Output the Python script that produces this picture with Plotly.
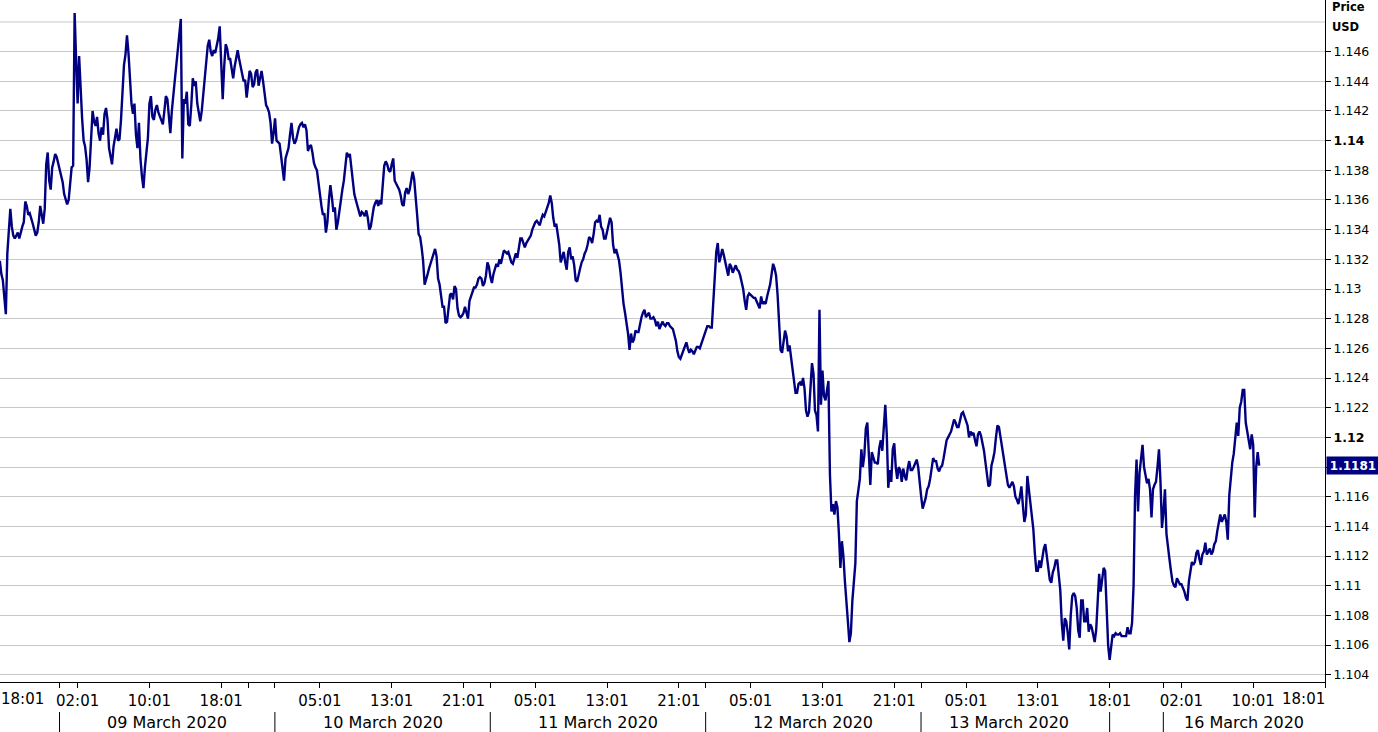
import pandas as pd
import plotly.graph_objects as go

# EUR/USD price samples (every 10 minutes), one list per trading session
eurusd_0308 = [1.1319, 1.1310, 1.1306, 1.1295, 1.1283, 1.1324, 1.1342, 1.1354, 1.1342, 1.1336,
               1.1334, 1.1336, 1.1338, 1.1334, 1.1339, 1.1342, 1.1345, 1.1359, 1.1356, 1.1350,
               1.1351, 1.1348, 1.1344, 1.1340, 1.1336, 1.1338, 1.1345, 1.1356, 1.1348, 1.1344,
               1.1354, 1.1384, 1.1392, 1.1373, 1.1367, 1.1382, 1.1386, 1.1391, 1.1389, 1.1385]
eurusd_0309 = [1.1382, 1.1378, 1.1372, 1.1364, 1.1361, 1.1357, 1.1360, 1.1369, 1.1382, 1.1383,
               1.1486, 1.1454, 1.1425, 1.1457, 1.1430, 1.1415, 1.1400, 1.1396, 1.1387, 1.1372,
               1.1382, 1.1398, 1.1420, 1.1413, 1.1410, 1.1416, 1.1405, 1.1400, 1.1409, 1.1404,
               1.1418, 1.1422, 1.1414, 1.1395, 1.1388, 1.1384, 1.1396, 1.1404, 1.1408, 1.1400,
               1.1401, 1.1414, 1.1435, 1.1451, 1.1458, 1.1471, 1.1459, 1.1440, 1.1425, 1.1418,
               1.1425, 1.1404, 1.1395, 1.1412, 1.1388, 1.1376, 1.1368, 1.1382, 1.1395, 1.1402,
               1.1425, 1.1430, 1.1416, 1.1414, 1.1421, 1.1424, 1.1419, 1.1416, 1.1413, 1.1411,
               1.1420, 1.1430, 1.1428, 1.1416, 1.1405, 1.1420, 1.1433, 1.1441, 1.1451, 1.1462,
               1.1472, 1.1482, 1.1388, 1.1428, 1.1425, 1.1433, 1.1411, 1.1410, 1.1424, 1.1442,
               1.1437, 1.1440, 1.1425, 1.1418, 1.1413, 1.1420, 1.1432, 1.1440, 1.1455, 1.1464,
               1.1468, 1.1460, 1.1457, 1.1461, 1.1459, 1.1464, 1.1469, 1.1477, 1.1450, 1.1428,
               1.1450, 1.1465, 1.1462, 1.1455, 1.1455, 1.1449, 1.1442, 1.1450, 1.1457, 1.1461,
               1.1455, 1.1449, 1.1444, 1.1440, 1.1441, 1.1429, 1.1438, 1.1447, 1.1445, 1.1436,
               1.1438, 1.1446, 1.1448, 1.1437, 1.1442, 1.1447, 1.1440, 1.1430, 1.1424, 1.1422,
               1.1419, 1.1412, 1.1398, 1.1405]
eurusd_0310 = [1.1415, 1.1400, 1.1399, 1.1398, 1.1390, 1.1379, 1.1373, 1.1388, 1.1392, 1.1395,
               1.1404, 1.1412, 1.1402, 1.1398, 1.1400, 1.1405, 1.1409, 1.1411, 1.1412, 1.1409,
               1.1411, 1.1407, 1.1393, 1.1396, 1.1397, 1.1392, 1.1385, 1.1382, 1.1380, 1.1372,
               1.1362, 1.1356, 1.1350, 1.1351, 1.1338, 1.1345, 1.1360, 1.1370, 1.1362, 1.1352,
               1.1355, 1.1340, 1.1345, 1.1353, 1.1362, 1.1367, 1.1373, 1.1385, 1.1392, 1.1389,
               1.1391, 1.1382, 1.1371, 1.1364, 1.1360, 1.1356, 1.1352, 1.1349, 1.1352, 1.1351,
               1.1349, 1.1353, 1.1348, 1.1340, 1.1342, 1.1350, 1.1355, 1.1358, 1.1360, 1.1356,
               1.1360, 1.1357, 1.1374, 1.1383, 1.1386, 1.1384, 1.1380, 1.1379, 1.1384, 1.1388,
               1.1373, 1.1371, 1.1369, 1.1367, 1.1363, 1.1357, 1.1356, 1.1365, 1.1368, 1.1364,
               1.1367, 1.1372, 1.1379, 1.1374, 1.1364, 1.1350, 1.1337, 1.1335, 1.1328, 1.1319,
               1.1303, 1.1306, 1.1310, 1.1314, 1.1317, 1.1320, 1.1324, 1.1327, 1.1322, 1.1307,
               1.1303, 1.1293, 1.1288, 1.1288, 1.1277, 1.1278, 1.1290, 1.1296, 1.1297, 1.1293,
               1.1302, 1.1300, 1.1287, 1.1282, 1.1281, 1.1282, 1.1284, 1.1288, 1.1284, 1.1280,
               1.1292, 1.1295, 1.1298, 1.1301, 1.1301, 1.1303, 1.1307, 1.1308, 1.1307, 1.1302,
               1.1304, 1.1309, 1.1318, 1.1315]
eurusd_0311 = [1.1308, 1.1304, 1.1310, 1.1313, 1.1317, 1.1315, 1.1320, 1.1317, 1.1322, 1.1326,
               1.1325, 1.1324, 1.1325, 1.1321, 1.1318, 1.1317, 1.1321, 1.1324, 1.1321, 1.1328,
               1.1334, 1.1334, 1.1331, 1.1328, 1.1331, 1.1333, 1.1334, 1.1336, 1.1340, 1.1343,
               1.1345, 1.1346, 1.1344, 1.1343, 1.1347, 1.1350, 1.1349, 1.1352, 1.1355, 1.1358,
               1.1363, 1.1358, 1.1348, 1.1342, 1.1344, 1.1337, 1.1330, 1.1318, 1.1322, 1.1325,
               1.1318, 1.1313, 1.1325, 1.1328, 1.1320, 1.1322, 1.1316, 1.1306, 1.1305, 1.1311,
               1.1314, 1.1318, 1.1320, 1.1324, 1.1326, 1.1330, 1.1335, 1.1334, 1.1331, 1.1337,
               1.1345, 1.1346, 1.1345, 1.1350, 1.1342, 1.1340, 1.1334, 1.1334, 1.1339, 1.1344,
               1.1348, 1.1345, 1.1330, 1.1324, 1.1327, 1.1323, 1.1319, 1.1311, 1.1300, 1.1290,
               1.1284, 1.1278, 1.1270, 1.1259, 1.1270, 1.1264, 1.1266, 1.1272, 1.1271, 1.1271,
               1.1277, 1.1281, 1.1284, 1.1286, 1.1281, 1.1283, 1.1284, 1.1280, 1.1280, 1.1281,
               1.1279, 1.1275, 1.1278, 1.1273, 1.1275, 1.1278, 1.1276, 1.1275, 1.1277, 1.1277,
               1.1275, 1.1274, 1.1273, 1.1269, 1.1265, 1.1258, 1.1254, 1.1253, 1.1256, 1.1259,
               1.1262, 1.1264, 1.1260, 1.1257, 1.1259, 1.1258, 1.1256, 1.1258, 1.1261, 1.1261,
               1.1260, 1.1263, 1.1266, 1.1269]
eurusd_0312 = [1.1272, 1.1275, 1.1275, 1.1274, 1.1274, 1.1290, 1.1306, 1.1325, 1.1331, 1.1318,
               1.1322, 1.1327, 1.1323, 1.1319, 1.1314, 1.1309, 1.1317, 1.1315, 1.1311, 1.1314,
               1.1316, 1.1313, 1.1312, 1.1309, 1.1304, 1.1300, 1.1292, 1.1286, 1.1295, 1.1297,
               1.1296, 1.1295, 1.1294, 1.1294, 1.1292, 1.1290, 1.1287, 1.1295, 1.1290, 1.1291,
               1.1290, 1.1295, 1.1299, 1.1303, 1.1310, 1.1317, 1.1314, 1.1309, 1.1296, 1.1275,
               1.1259, 1.1257, 1.1263, 1.1272, 1.1268, 1.1258, 1.1262, 1.1253, 1.1245, 1.1237,
               1.1230, 1.1230, 1.1236, 1.1237, 1.1235, 1.1240, 1.1233, 1.1218, 1.1214, 1.1217,
               1.1238, 1.1250, 1.1243, 1.1218, 1.1215, 1.1204, 1.1286, 1.1222, 1.1245, 1.1228,
               1.1225, 1.1233, 1.1238, 1.1175, 1.1150, 1.1155, 1.1148, 1.1157, 1.1153, 1.1135,
               1.1112, 1.1130, 1.1120, 1.1103, 1.1092, 1.1076, 1.1062, 1.1068, 1.1090, 1.1104,
               1.1115, 1.1157, 1.1165, 1.1172, 1.1192, 1.1180, 1.1188, 1.1206, 1.1210, 1.1185,
               1.1168, 1.1190, 1.1186, 1.1183, 1.1183, 1.1182, 1.1193, 1.1198, 1.1191, 1.1205,
               1.1222, 1.1202, 1.1166, 1.1178, 1.1170, 1.1192, 1.1196, 1.1180, 1.1172, 1.1180,
               1.1178, 1.1170, 1.1179, 1.1174, 1.1171, 1.1179, 1.1184, 1.1178, 1.1178, 1.1180,
               1.1183, 1.1185, 1.1180, 1.1167]
eurusd_0313 = [1.1160, 1.1152, 1.1155, 1.1159, 1.1165, 1.1167, 1.1172, 1.1180, 1.1186, 1.1184,
               1.1184, 1.1179, 1.1177, 1.1180, 1.1181, 1.1186, 1.1193, 1.1198, 1.1200, 1.1202,
               1.1204, 1.1208, 1.1212, 1.1210, 1.1207, 1.1207, 1.1211, 1.1216, 1.1217, 1.1214,
               1.1212, 1.1208, 1.1200, 1.1204, 1.1202, 1.1203, 1.1198, 1.1194, 1.1202, 1.1204,
               1.1201, 1.1197, 1.1191, 1.1183, 1.1176, 1.1167, 1.1168, 1.1181, 1.1185, 1.1190,
               1.1200, 1.1208, 1.1207, 1.1200, 1.1193, 1.1187, 1.1181, 1.1175, 1.1168, 1.1166,
               1.1168, 1.1170, 1.1167, 1.1160, 1.1158, 1.1155, 1.1160, 1.1167, 1.1154, 1.1143,
               1.1148, 1.1174, 1.1165, 1.1155, 1.1146, 1.1138, 1.1122, 1.1110, 1.1110, 1.1117,
               1.1112, 1.1120, 1.1125, 1.1128, 1.1120, 1.1110, 1.1104, 1.1102, 1.1109, 1.1112,
               1.1117, 1.1117, 1.1108, 1.1097, 1.1075, 1.1063, 1.1078, 1.1076, 1.1068, 1.1057,
               1.1080, 1.1093, 1.1095, 1.1093, 1.1085, 1.1070, 1.1065, 1.1090, 1.1090, 1.1076,
               1.1076, 1.1085, 1.1069, 1.1074, 1.1072, 1.1068, 1.1062, 1.1070, 1.1095, 1.1108,
               1.1096, 1.1106, 1.1112, 1.1110, 1.1078, 1.1060]
eurusd_0315 = [1.1050, 1.1060, 1.1067, 1.1066, 1.1068, 1.1067, 1.1067, 1.1068, 1.1066, 1.1066,
               1.1066, 1.1066, 1.1072, 1.1068, 1.1068, 1.1075, 1.1100, 1.1161, 1.1185, 1.1150,
               1.1176, 1.1186, 1.1195, 1.1180, 1.1173, 1.1169, 1.1172, 1.1165, 1.1146, 1.1165,
               1.1168, 1.1170, 1.1180, 1.1192, 1.1170, 1.1139]
eurusd_0316 = [1.1150, 1.1165, 1.1135, 1.1128, 1.1118, 1.1110, 1.1103, 1.1100, 1.1099, 1.1105,
               1.1103, 1.1101, 1.1101, 1.1099, 1.1096, 1.1092, 1.1090, 1.1103, 1.1111, 1.1116,
               1.1114, 1.1116, 1.1122, 1.1124, 1.1118, 1.1114, 1.1121, 1.1123, 1.1129, 1.1121,
               1.1123, 1.1125, 1.1121, 1.1123, 1.1128, 1.1130, 1.1137, 1.1143, 1.1148, 1.1143,
               1.1145, 1.1148, 1.1143, 1.1131, 1.1161, 1.1175, 1.1183, 1.1189, 1.1200, 1.1210,
               1.1201, 1.1220, 1.1224, 1.1232, 1.1232, 1.1210, 1.1204, 1.1196, 1.1192, 1.1202,
               1.1195, 1.1146, 1.1180, 1.1190, 1.1181]

session_starts = ["2020-03-08 17:21", "2020-03-09 00:01", "2020-03-10 00:01", "2020-03-11 00:01",
                  "2020-03-12 00:01", "2020-03-13 00:01", "2020-03-15 18:01", "2020-03-16 00:01"]
sessions = [eurusd_0308, eurusd_0309, eurusd_0310, eurusd_0311,
            eurusd_0312, eurusd_0313, eurusd_0315, eurusd_0316]
sample_step = "10min"

weekend_gap = ["2020-03-13 21:01", "2020-03-15 18:01"]

tick_times = ["2020-03-09 00:00", "2020-03-09 02:01", "2020-03-09 10:01", "2020-03-09 18:01",
              "2020-03-09 21:01", "2020-03-10 00:00", "2020-03-10 05:01", "2020-03-10 13:01",
              "2020-03-10 21:01", "2020-03-11 00:00", "2020-03-11 05:01", "2020-03-11 13:01",
              "2020-03-11 21:01", "2020-03-12 00:00", "2020-03-12 05:01", "2020-03-12 13:01",
              "2020-03-12 21:01", "2020-03-13 00:00", "2020-03-13 05:01", "2020-03-13 13:01",
              "2020-03-15 18:01", "2020-03-16 00:00", "2020-03-16 02:01", "2020-03-16 10:01",
              "2020-03-16 18:01"]
tick_labels = ["", "02:01", "10:01", "18:01",
               "", "", "05:01", "13:01",
               "21:01", "", "05:01", "13:01",
               "21:01", "", "05:01", "13:01",
               "21:01", "", "05:01", "13:01",
               "18:01", "", "02:01", "10:01",
               ""]
edge_labels = ["18:01", "18:01"]

day_bounds = ["2020-03-09 00:00", "2020-03-10 00:00", "2020-03-11 00:00", "2020-03-12 00:00",
              "2020-03-13 00:00", "2020-03-15 18:01", "2020-03-16 00:00"]
day_names = ["09 March 2020", "10 March 2020", "11 March 2020", "12 March 2020",
             "13 March 2020", "16 March 2020"]
day_centres = ["2020-03-09 12:00", "2020-03-10 12:00", "2020-03-11 12:00", "2020-03-12 12:00",
               "2020-03-13 09:49", "2020-03-16 09:00"]

price_ticks = [1.104, 1.106, 1.108, 1.110, 1.112, 1.114, 1.116, 1.118, 1.120, 1.122, 1.124,
               1.126, 1.128, 1.130, 1.132, 1.134, 1.136, 1.138, 1.140, 1.142, 1.144, 1.146]
price_tick_text = ["1.104", "1.106", "1.108", "1.11", "1.112", "1.114", "1.116", "",
                   "<b>1.12</b>", "1.122", "1.124", "1.126", "1.128", "1.13", "1.132", "1.134",
                   "1.136", "1.138", "<b>1.14</b>", "1.142", "1.144", "1.146"]
top_gridline = 1.148
y_range = [1.10351, 1.14948]
x_range = ["2020-03-08 17:22", "2020-03-16 18:01"]

NAVY = "#000080"
FONT = "DejaVu Sans"

times, prices = [], []
for start, seg in zip(session_starts, sessions):
    times += list(pd.date_range(start, periods=len(seg), freq=sample_step))
    prices += seg
last_price = prices[-1]

fig = go.Figure()
fig.add_trace(go.Scatter(x=times, y=prices, mode="lines",
                         line=dict(color=NAVY, width=2.4), showlegend=False))

fig.update_layout(
    width=1378, height=732,
    margin=dict(l=0, r=53, t=0, b=50),
    paper_bgcolor="white", plot_bgcolor="white",
    font=dict(family=FONT, color="black"),
    xaxis=dict(
        type="date", range=x_range,
        rangebreaks=[dict(bounds=weekend_gap)],
        tickmode="array", tickvals=tick_times, ticktext=tick_labels,
        ticks="outside", ticklen=5, tickcolor="black", tickwidth=1,
        tickfont=dict(family=FONT, size=15, color="black"),
        showgrid=False, zeroline=False,
        showline=True, linecolor="black", linewidth=1,
    ),
    yaxis=dict(
        side="right", range=y_range,
        tickmode="array", tickvals=price_ticks, ticktext=price_tick_text,
        ticks="outside", ticklen=5, tickcolor="black", tickwidth=1,
        tickfont=dict(family=FONT, size=12.5, color="black"),
        showgrid=True, gridcolor="#c8c8c8", gridwidth=1,
        zeroline=False, showline=True, linecolor="black", linewidth=1,
    ),
)

shapes = [dict(type="line", xref="paper", yref="y", x0=0, x1=1,
               y0=top_gridline, y1=top_gridline, line=dict(color="#c8c8c8", width=1),
               layer="below")]
for b in day_bounds:
    shapes.append(dict(type="line", xref="x", yref="paper", x0=b, x1=b,
                       y0=-0.044, y1=-0.075, line=dict(color="black", width=1)))
fig.update_layout(shapes=shapes)

annotations = []
for name, mid in zip(day_names, day_centres):
    annotations.append(dict(text=name, x=mid, xref="x", y=-0.0587, yref="paper",
                            xanchor="center", yanchor="middle", showarrow=False,
                            font=dict(family=FONT, size=16, color="black")))
annotations.append(dict(text=edge_labels[0], x=0, xref="paper", y=-0.025, yref="paper",
                        xanchor="left", yanchor="middle", showarrow=False, xshift=-1,
                        font=dict(family=FONT, size=15, color="black")))
annotations.append(dict(text=edge_labels[1], x=1, xref="paper", y=-0.025, yref="paper",
                        xanchor="right", yanchor="middle", showarrow=False, xshift=2,
                        font=dict(family=FONT, size=15, color="black")))
annotations.append(dict(text="<b>Price</b>", x=1, xref="paper", y=1 - 7.5 / 682, yref="paper",
                        xanchor="left", yanchor="middle", showarrow=False, xshift=5,
                        font=dict(family=FONT, size=11.5, color="black")))
annotations.append(dict(text="<b>USD</b>", x=1, xref="paper", y=1 - 26.7 / 682, yref="paper",
                        xanchor="left", yanchor="middle", showarrow=False, xshift=5,
                        font=dict(family=FONT, size=11.5, color="black")))
annotations.append(dict(text="<b>%.4f</b>" % last_price, x=1, xref="paper", y=last_price, yref="y",
                        xanchor="left", yanchor="middle", showarrow=False, xshift=1,
                        bgcolor=NAVY, borderpad=1, width=50, height=15,
                        font=dict(family=FONT, size=12, color="white")))
fig.update_layout(annotations=annotations)

fig.write_html("out.html", config={"displayModeBar": False},
               post_script="document.body.style.margin='0';document.body.style.overflow='hidden';")
